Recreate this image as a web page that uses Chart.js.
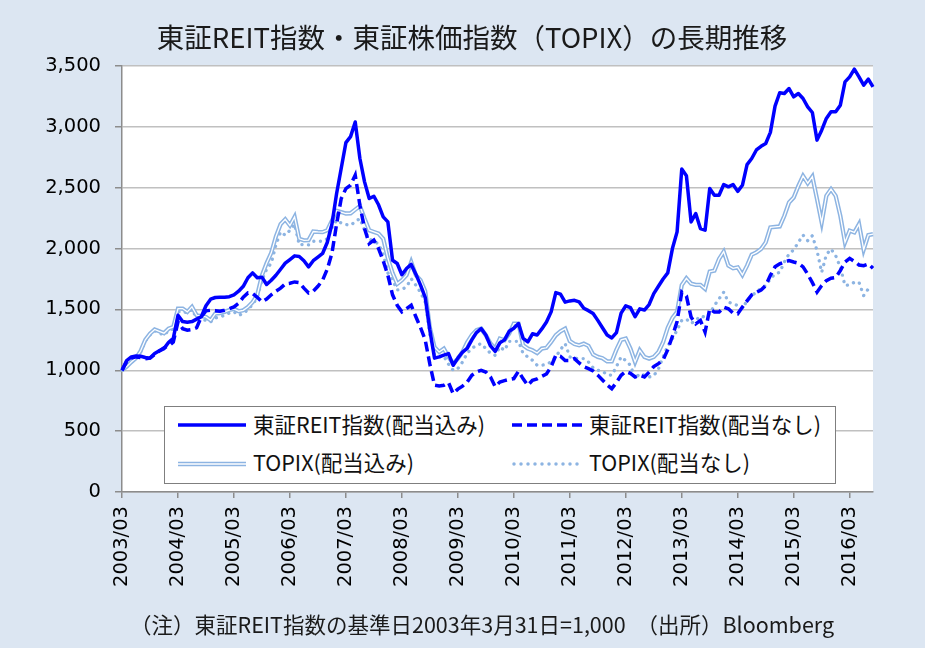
<!DOCTYPE html>
<html><head><meta charset="utf-8">
<script src="https://cdn.jsdelivr.net/npm/chart.js@4.4.1/dist/chart.umd.min.js"></script>
<style>
html,body{margin:0;padding:0;background:#fff;}
#wrap{position:relative;width:925px;height:648px;background:#dce6f2;overflow:hidden;}
#c{position:absolute;left:0;top:0;}
.t{position:absolute;font-family:"Noto Sans CJK JP","Noto Sans",sans-serif;color:#1a1a1a;white-space:nowrap;}
#title{left:0;width:944px;top:14px;text-align:center;font-size:27.5px;line-height:44px;}
#note{left:130px;top:609px;font-size:21.5px;line-height:30px;}
#legend{position:absolute;left:164px;top:406px;width:670px;height:76px;border:1.5px solid #7f7f7f;background:#fff;}
.li{position:absolute;font-family:"Noto Sans CJK JP","Noto Sans",sans-serif;font-size:21.5px;line-height:28px;color:#111;white-space:nowrap;}
svg{position:absolute;}
</style>
</head><body>
<div id="wrap">
<canvas id="c" width="930" height="649"></canvas>
<div class="t" id="title">東証REIT指数・東証株価指数（TOPIX）の長期推移</div>
<div id="legend">
  <svg style="left:13px;top:13px" width="70" height="10"><line x1="0" y1="5" x2="68" y2="5" stroke="#0000ff" stroke-width="3.5"/></svg>
  <div class="li" style="left:88px;top:3px">東証REIT指数(配当込み)</div>
  <svg style="left:347px;top:13px" width="72" height="10"><line x1="0" y1="5" x2="70" y2="5" stroke="#0000ff" stroke-width="3.5" stroke-dasharray="10 5"/></svg>
  <div class="li" style="left:424px;top:3px">東証REIT指数(配当なし)</div>
  <svg style="left:13px;top:52px" width="70" height="10"><line x1="0" y1="5" x2="68" y2="5" stroke="#8db4e2" stroke-width="4.5"/><line x1="0" y1="5" x2="68" y2="5" stroke="#ffffff" stroke-width="1.5"/></svg>
  <div class="li" style="left:88px;top:41px">TOPIX(配当込み)</div>
  <svg style="left:347px;top:52px" width="72" height="10"><line x1="2" y1="5" x2="70" y2="5" stroke="#8db4e2" stroke-width="3.5" stroke-linecap="round" stroke-dasharray="0 7"/></svg>
  <div class="li" style="left:424px;top:41px">TOPIX(配当なし)</div>
</div>
<div class="t" id="note">（注）東証REIT指数の基準日2003年3月31日=1,000　（出所）Bloomberg</div>
</div>
<script>
const months = [
"2003/03","2003/04","2003/05","2003/06","2003/07","2003/08","2003/09","2003/10","2003/11","2003/12",
"2004/01","2004/02","2004/03","2004/04","2004/05","2004/06","2004/07","2004/08","2004/09","2004/10","2004/11","2004/12",
"2005/01","2005/02","2005/03","2005/04","2005/05","2005/06","2005/07","2005/08","2005/09","2005/10","2005/11","2005/12",
"2006/01","2006/02","2006/03","2006/04","2006/05","2006/06","2006/07","2006/08","2006/09","2006/10","2006/11","2006/12",
"2007/01","2007/02","2007/03","2007/04","2007/05","2007/06","2007/07","2007/08","2007/09","2007/10","2007/11","2007/12",
"2008/01","2008/02","2008/03","2008/04","2008/05","2008/06","2008/07","2008/08","2008/09","2008/10","2008/11","2008/12",
"2009/01","2009/02","2009/03","2009/04","2009/05","2009/06","2009/07","2009/08","2009/09","2009/10","2009/11","2009/12",
"2010/01","2010/02","2010/03","2010/04","2010/05","2010/06","2010/07","2010/08","2010/09","2010/10","2010/11","2010/12",
"2011/01","2011/02","2011/03","2011/04","2011/05","2011/06","2011/07","2011/08","2011/09","2011/10","2011/11","2011/12",
"2012/01","2012/02","2012/03","2012/04","2012/05","2012/06","2012/07","2012/08","2012/09","2012/10","2012/11","2012/12",
"2013/01","2013/02","2013/03","2013/04","2013/05","2013/06","2013/07","2013/08","2013/09","2013/10","2013/11","2013/12",
"2014/01","2014/02","2014/03","2014/04","2014/05","2014/06","2014/07","2014/08","2014/09","2014/10","2014/11","2014/12",
"2015/01","2015/02","2015/03","2015/04","2015/05","2015/06","2015/07","2015/08","2015/09","2015/10","2015/11","2015/12",
"2016/01","2016/02","2016/03","2016/04","2016/05","2016/06","2016/07","2016/08"
];

// 東証REIT指数(配当込み)
const reitTotal = [
1000,1080,1110,1118,1115,1105,1100,1137,1160,1178,1230,1262,
1452,1400,1395,1400,1420,1440,1530,1584,1598,1600,1600,1605,
1620,1650,1690,1760,1800,1760,1765,1705,1740,1781,1830,1880,
1910,1940,1935,1900,1850,1900,1930,1960,2050,2200,2450,2660,
2870,2920,3040,2740,2548,2411,2430,2360,2260,2219,1904,1877,
1785,1836,1870,1790,1700,1600,1330,1100,1110,1125,1137,1041,
1100,1150,1180,1250,1310,1342,1290,1200,1155,1225,1250,1320,
1345,1384,1262,1233,1300,1290,1340,1397,1480,1638,1625,1560,
1570,1575,1562,1510,1490,1466,1410,1350,1290,1266,1310,1470,
1530,1515,1440,1505,1495,1540,1630,1690,1750,1800,2000,2137,
2653,2598,2219,2288,2165,2151,2493,2438,2438,2526,2507,2526,
2470,2520,2690,2740,2810,2840,2863,2955,3170,3280,3274,3315,
3247,3274,3233,3165,3118,2891,2973,3069,3124,3124,3178,3370,
3411,3474,3411,3343,3392,3329
];

// 東証REIT指数(配当なし)
const reitPrice = [
1000,1070,1100,1110,1105,1095,1100,1130,1160,1185,1200,1233,
1397,1342,1329,1335,1350,1440,1488,1493,1490,1485,1493,1505,
1521,1550,1600,1636,1630,1600,1562,1585,1620,1650,1675,1710,
1715,1726,1720,1675,1635,1650,1690,1740,1830,1960,2200,2411,
2493,2521,2603,2356,2164,2040,2069,2000,1900,1780,1620,1534,
1480,1507,1534,1440,1350,1250,1050,877,871,877,899,808,
845,870,904,959,986,1000,986,945,865,904,915,925,
932,992,930,877,918,930,950,970,1030,1123,1115,1080,
1080,1096,1060,1030,1014,995,960,920,880,849,900,959,
990,975,945,959,945,985,1030,1055,1085,1170,1280,1400,
1642,1610,1437,1382,1410,1314,1505,1478,1478,1519,1505,1470,
1464,1519,1570,1620,1640,1660,1696,1780,1850,1875,1890,1901,
1890,1880,1850,1790,1720,1642,1696,1737,1756,1762,1820,1890,
1920,1895,1865,1860,1874,1838
];

// TOPIX(配当込み)
const topixTotal = [
1000,1030,1068,1100,1160,1250,1300,1335,1320,1305,1342,1356,
1507,1507,1480,1521,1452,1445,1438,1411,1466,1470,1480,1495,
1505,1485,1493,1520,1560,1620,1780,1880,1965,2100,2200,2240,
2190,2260,2080,2068,2070,2140,2137,2135,2150,2230,2310,2300,
2288,2290,2320,2350,2247,2151,2137,2123,2080,1920,1800,1710,
1740,1781,1890,1781,1740,1650,1350,1190,1151,1178,1110,1055,
1096,1151,1230,1290,1329,1342,1288,1220,1178,1260,1247,1300,
1384,1384,1205,1178,1164,1142,1178,1185,1233,1288,1320,1342,
1240,1215,1205,1219,1200,1130,1110,1100,1074,1074,1170,1250,
1260,1178,1068,1164,1110,1096,1110,1150,1230,1350,1430,1480,
1700,1756,1712,1702,1702,1669,1811,1819,1915,1975,1860,1838,
1846,1784,1860,1950,1969,1996,2051,2174,2178,2182,2269,2379,
2420,2515,2597,2537,2592,2406,2215,2433,2488,2433,2269,2051,
2147,2133,2201,1991,2111,2119
];

// TOPIX(配当なし)
const topixPrice = [
1000,1030,1065,1095,1150,1240,1290,1325,1305,1290,1325,1340,
1480,1485,1470,1500,1430,1420,1410,1397,1430,1438,1452,1470,
1480,1452,1465,1500,1540,1600,1740,1830,1880,2030,2137,2110,
2150,2200,2030,2035,2030,2060,2060,2060,2080,2170,2233,2210,
2197,2192,2220,2247,2151,2082,2055,2041,1950,1800,1740,1660,
1665,1685,1753,1699,1640,1560,1290,1130,1110,1115,1050,1000,
1014,1068,1140,1180,1205,1219,1178,1140,1123,1192,1164,1238,
1238,1238,1137,1110,1082,1041,1041,1050,1068,1110,1170,1219,
1110,1100,1096,1096,1068,1020,1000,992,965,959,1030,1110,
1080,1041,932,973,959,945,955,1010,1110,1200,1260,1330,
1410,1420,1385,1410,1445,1437,1464,1532,1587,1642,1560,1546,
1532,1505,1573,1614,1642,1674,1696,1751,1792,1805,1890,1956,
1990,2051,2111,2065,2106,1983,1805,1950,1996,1942,1846,1696,
1702,1723,1723,1614,1669,1683
];

const yTicks = [0,500,1000,1500,2000,2500,3000,3500];

const REIT_BLUE = '#0000ff';
const TOPIX_BLUE = '#8db4e2';
const tickFont = {family:'DejaVu Sans', size:19.5};

const whiteArea = {
  id:'whiteArea',
  beforeDraw(chart){
    const {ctx, chartArea:a} = chart;
    ctx.save(); ctx.fillStyle='#ffffff';
    ctx.fillRect(a.left, a.top, a.right-a.left, a.bottom-a.top);
    ctx.restore();
  }
};

new Chart(document.getElementById('c'), {
  type:'line',
  data:{
    labels: months,
    datasets:[
      {label:'東証REIT指数(配当込み)', data:reitTotal, borderColor:REIT_BLUE, borderWidth:3.5, pointRadius:0, tension:0, borderJoinStyle:'round'},
      {label:'東証REIT指数(配当なし)', data:reitPrice, borderColor:REIT_BLUE, borderWidth:3.5, borderDash:[10,5], pointRadius:0, tension:0},
      {label:'TOPIX(配当込み) inner', data:topixTotal, borderColor:'#ffffff', borderWidth:1.3, pointRadius:0, tension:0},
      {label:'TOPIX(配当込み)', data:topixTotal, borderColor:TOPIX_BLUE, borderWidth:4.3, pointRadius:0, tension:0},
      {label:'TOPIX(配当なし)', data:topixPrice, borderColor:TOPIX_BLUE, borderWidth:3.3, borderDash:[0.1,6.5], borderCapStyle:'round', pointRadius:0, tension:0}
    ]
  },
  options:{
    responsive:false, animation:false, devicePixelRatio:1,
    layout:{padding:{left:0,right:57,top:66,bottom:0}},
    plugins:{legend:{display:false}, tooltip:{enabled:false}, title:{display:false}},
    scales:{
      x:{
        type:'category', offset:false,
        grid:{display:true, drawOnChartArea:false, drawTicks:true, tickLength:6, color:'#8c8c8c', lineWidth:1.5},
        border:{display:true, color:'#8c8c8c', width:1.5},
        ticks:{autoSkip:false, maxRotation:90, minRotation:90, font:tickFont, color:'#000', padding:8},
        afterBuildTicks:(s)=>{ s.ticks = s.ticks.filter(t => months[t.value].endsWith('/03')); },
        afterFit:(s)=>{ s.height = 157; }
      },
      y:{
        min:0, max:3500,
        afterBuildTicks:(s)=>{ s.ticks = yTicks.map(v=>({value:v})); },
        ticks:{font:tickFont, color:'#000', padding:14, callback:(v)=>Number(v).toLocaleString('en-US')},
        grid:{color:'#c0c0c0', lineWidth:1.5, tickLength:7, tickColor:'#8c8c8c', tickWidth:1.5},
        border:{display:true, color:'#8c8c8c', width:1.5},
        afterFit:(s)=>{ s.width = 122; }
      }
    }
  },
  plugins:[whiteArea]
});
</script>
</body></html>
